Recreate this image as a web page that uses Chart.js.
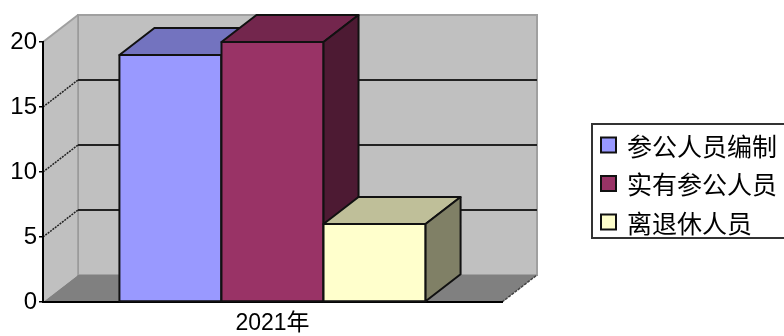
<!DOCTYPE html>
<html>
<head>
<meta charset="utf-8">
<script src="https://cdn.jsdelivr.net/npm/chart.js@4/dist/chart.umd.min.js"></script>
<style>
  html, body { margin: 0; padding: 0; background: #fff; }
  canvas { display: block; }
</style>
</head>
<body>
<canvas id="c" width="784" height="336"></canvas>
<script>
// Categories, series and tick values
const categories = ['2021年'];
const seriesNames = ['参公人员编制', '实有参公人员', '离退休人员'];
const staffQuota = [19];
const actualStaff = [20];
const retiredStaff = [6];
const yTicks = [0, 5, 10, 15, 20];

// Face colours for each box: front, top, side
const frontColors = ['#9999FF', '#993366', '#FFFFCC'];
const topColors = ['#7373BF', '#73264D', '#BFBF99'];
const sideColors = ['#4D4D80', '#4D1A33', '#808066'];

// Depth offset of the 3D walls and boxes
const DEPTH_X = 35;
const DEPTH_Y = -27;

const FONT_FAMILY = '"Liberation Sans", "Noto Sans CJK SC", sans-serif';
const CJK_FAMILY = '"Noto Sans CJK SC", "Liberation Sans", sans-serif';

function poly(ctx, pts, fill, stroke, lw) {
  ctx.beginPath();
  ctx.moveTo(pts[0][0], pts[0][1]);
  for (let i = 1; i < pts.length; i++) ctx.lineTo(pts[i][0], pts[i][1]);
  ctx.closePath();
  if (fill) { ctx.fillStyle = fill; ctx.fill(); }
  if (stroke) { ctx.strokeStyle = stroke; ctx.lineWidth = lw || 1; ctx.stroke(); }
}

function line(ctx, x1, y1, x2, y2, color, lw, dash) {
  ctx.save();
  ctx.beginPath();
  ctx.setLineDash(dash || []);
  ctx.moveTo(x1, y1);
  ctx.lineTo(x2, y2);
  ctx.strokeStyle = color;
  ctx.lineWidth = lw;
  ctx.stroke();
  ctx.restore();
}

// Back wall, side wall, floor and the wall grid lines
const wallsPlugin = {
  id: 'walls3d',
  beforeDraw(chart) {
    const ctx = chart.ctx;
    const y = chart.scales.y;
    const a = chart.chartArea;
    const x0 = a.left, x1 = a.right;
    const yMin = y.getPixelForValue(y.min);
    const yMax = y.getPixelForValue(y.max);
    const dx = DEPTH_X, dy = DEPTH_Y;
    ctx.save();
    // back wall
    poly(ctx, [[x0 + dx, yMax + dy], [x1 + dx, yMax + dy], [x1 + dx, yMin + dy], [x0 + dx, yMin + dy]], '#C0C0C0', '#A0A0A0', 2);
    // side wall
    poly(ctx, [[x0, yMax], [x0 + dx, yMax + dy], [x0 + dx, yMin + dy], [x0, yMin]], '#C0C0C0', null);
    line(ctx, x0, yMax, x0 + dx, yMax + dy, '#A0A0A0', 2);
    line(ctx, x0 + dx, yMax + dy, x0 + dx, yMin + dy, '#9A9A9A', 1.5);
    // floor
    poly(ctx, [[x0, yMin], [x1, yMin], [x1 + dx, yMin + dy], [x0 + dx, yMin + dy]], '#808080', null);
    line(ctx, x1, yMin, x1 + dx, yMin + dy, '#444', 1.5, [3, 1]);
    // grid lines on the back and side walls
    yTicks.forEach(v => {
      if (v === y.min || v === y.max) return;
      const py = y.getPixelForValue(v);
      line(ctx, x0 + dx, py + dy, x1 + dx, py + dy, '#222', 2);
      line(ctx, x0, py, x0 + dx, py + dy, '#222', 1.5, [2, 1]);
    });
    ctx.restore();
  }
};

// Boxes drawn front, top and side in series order
const boxesPlugin = {
  id: 'boxes3d',
  afterDatasetsDraw(chart) {
    const ctx = chart.ctx;
    const dx = DEPTH_X, dy = DEPTH_Y;
    ctx.save();
    ctx.lineJoin = 'round';
    chart.data.datasets.forEach((ds, i) => {
      const meta = chart.getDatasetMeta(i);
      meta.data.forEach(bar => {
        const p = bar.getProps(['x', 'y', 'base', 'width'], true);
        const l = p.x - p.width / 2, r = p.x + p.width / 2;
        const t = p.y, b = p.base;
        poly(ctx, [[l, t], [r, t], [r, b], [l, b]], frontColors[i], '#111', 2);
        poly(ctx, [[l, t], [r, t], [r + dx, t + dy], [l + dx, t + dy]], topColors[i], '#111', 2);
        poly(ctx, [[r, t], [r + dx, t + dy], [r + dx, b + dy], [r, b]], sideColors[i], '#111', 2);
      });
    });
    ctx.restore();
  }
};

// Boxed legend on the right
const legendPlugin = {
  id: 'boxLegend',
  afterDraw(chart) {
    const ctx = chart.ctx;
    ctx.save();
    ctx.strokeStyle = '#333';
    ctx.lineWidth = 2;
    ctx.strokeRect(592, 124, 200, 114);
    ctx.font = '25px ' + CJK_FAMILY;
    ctx.textBaseline = 'middle';
    ctx.textAlign = 'left';
    chart.data.datasets.forEach((ds, i) => {
      const cy = 145 + i * 38.5;
      ctx.fillStyle = frontColors[i];
      ctx.fillRect(601, cy - 7.5, 15, 15);
      ctx.strokeStyle = '#111';
      ctx.lineWidth = 2;
      ctx.strokeRect(601, cy - 7.5, 15, 15);
      ctx.fillStyle = '#000';
      ctx.fillText(ds.label, 627, cy + 1);
    });
    ctx.restore();
  }
};

const seriesValues = [staffQuota, actualStaff, retiredStaff];

new Chart(document.getElementById('c'), {
  type: 'bar',
  data: {
    labels: categories,
    datasets: seriesNames.map((name, i) => ({
      label: name,
      data: seriesValues[i],
      backgroundColor: frontColors[i],
      borderColor: '#111',
      borderWidth: 0,
      categoryPercentage: 0.667,
      barPercentage: 1.0
    }))
  },
  options: {
    responsive: false,
    animation: false,
    devicePixelRatio: 1,
    layout: { padding: { top: 42, right: 282, bottom: 0, left: 0 } },
    plugins: {
      legend: { display: false },
      tooltip: { enabled: false }
    },
    scales: {
      x: {
        grid: { display: false, drawTicks: false },
        border: { display: true, color: '#000', width: 2 },
        ticks: { color: '#000', padding: 8, font: { family: FONT_FAMILY, size: 23 } },
        afterFit(scale) { scale.height = 34; }
      },
      y: {
        min: 0,
        max: 20,
        afterBuildTicks(scale) { scale.ticks = yTicks.map(v => ({ value: v })); },
        grid: { drawOnChartArea: false, drawTicks: true, tickLength: 4, color: '#000', lineWidth: 1.5 },
        border: { display: true, color: '#000', width: 2 },
        ticks: { color: '#000', padding: 2, font: { family: FONT_FAMILY, size: 24 } },
        afterFit(scale) { scale.width = 43; }
      }
    }
  },
  plugins: [wallsPlugin, boxesPlugin, legendPlugin]
});
</script>
</body>
</html>
